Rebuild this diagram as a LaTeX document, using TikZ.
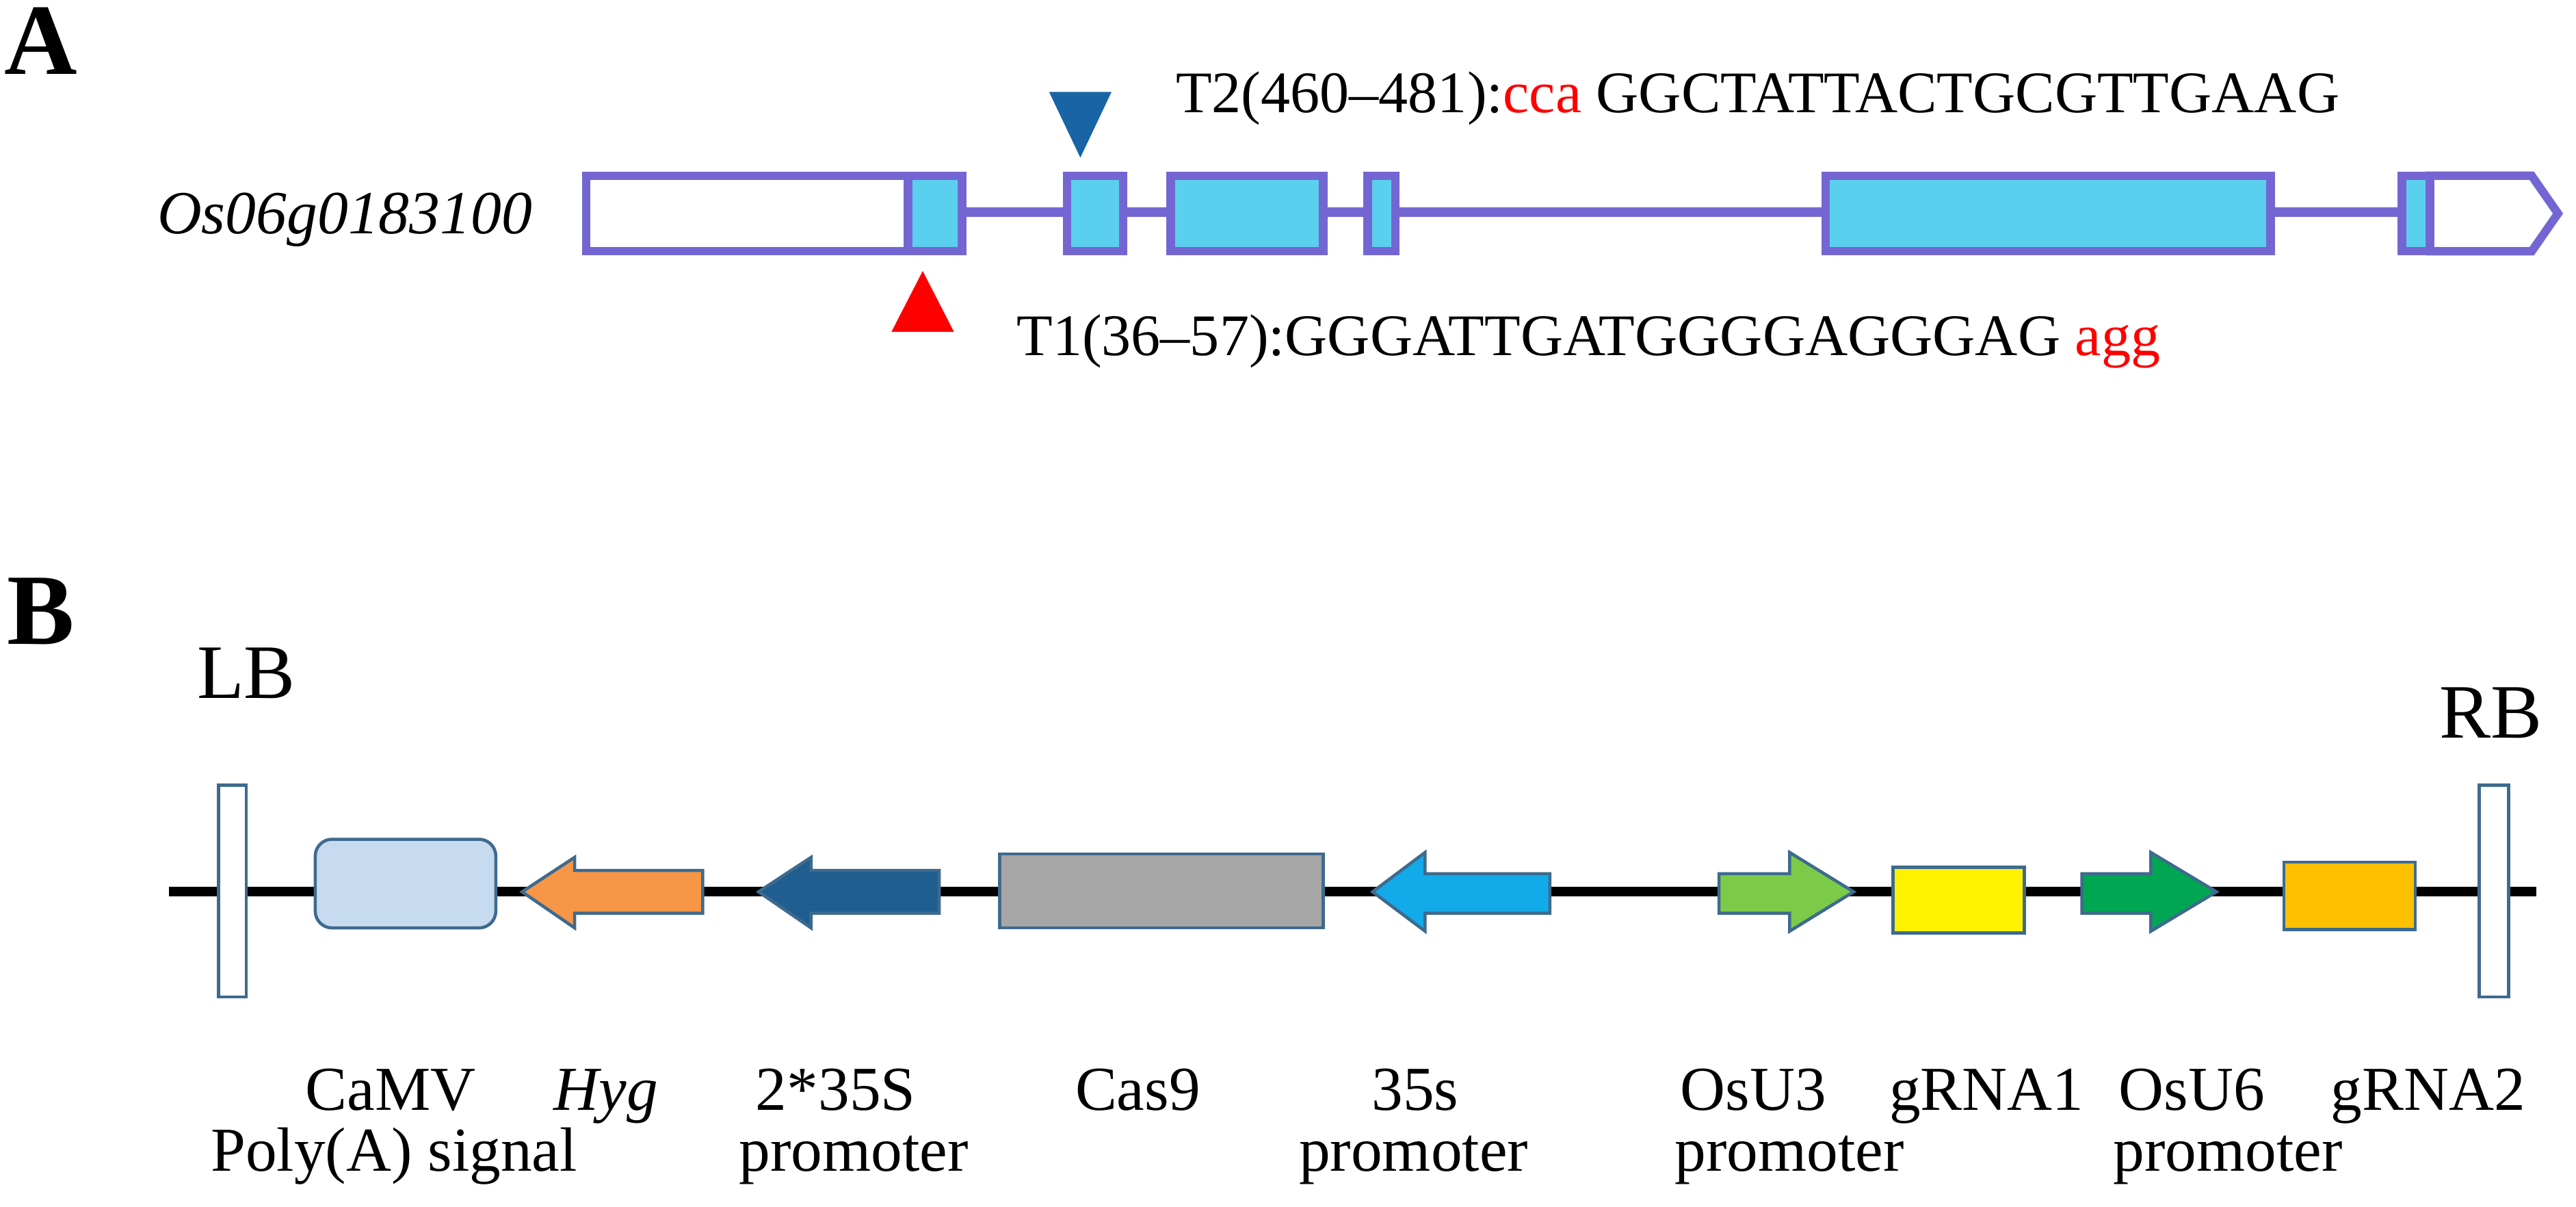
\documentclass[tikz,border=0pt]{standalone}
\usepackage{fontspec}
\setmainfont{Liberation Serif}
\begin{document}
\begin{tikzpicture}[x=0.024cm,y=-0.024cm,
  lbl/.style={font=\fontsize{26}{30}\selectfont,inner sep=0pt,align=center},
  seq/.style={font=\fontsize{24.5}{28}\selectfont,inner sep=0pt,anchor=west},
  panel/.style={font=\fontsize{42}{46}\selectfont\bfseries,inner sep=0pt},
  gene/.style={draw=genel,line width=3.5pt},
  exon/.style={gene,fill=exonc},
  utr/.style={gene,fill=white},
  part/.style={draw=partl,line width=1.3pt}]
\definecolor{genel}{HTML}{7466D2}
\definecolor{exonc}{HTML}{5BCFEE}
\definecolor{partl}{HTML}{3E6A8E}
\useasboundingbox (0,0) rectangle (1569,734.6);
% Panel A
\node[panel] (A) at (25,25) {A};
\node[inner sep=0pt,font=\fontsize{25.5}{30}\selectfont\itshape] (gname) at (210,134) {Os06g0183100};
\coordinate (gs) at (357,129);
\coordinate (ge) at (1542,129);
\draw[genel,line width=4pt] (gs) -- (ge);
\draw[utr] (357,107) rectangle (553,153);
\draw[exon] (553,107) rectangle (586,153);
\draw[exon] (650,107) rectangle (684,153);
\draw[exon] (713,107) rectangle (806,153);
\draw[exon] (833,107) rectangle (850,153);
\draw[exon] (1112,107) rectangle (1383,153);
\draw[utr,line join=miter] (1480,107) -- (1542,107) -- (1558,130) -- (1542,153) -- (1480,153) -- cycle;
\draw[exon] (1463,107) rectangle (1480,153);
\fill[fill={rgb,255:red,25;green,100;blue,165}] (639,56) -- (677,56) -- (658,96) -- cycle;
\fill[red] (543,202) -- (581,202) -- (562,165) -- cycle;
\node[seq] (t2) at (716,60) {T2(460\textendash481):\textcolor{red}{cca} GGCTATTACTGCGTTGAAG};
\node[seq] (t1) at (619,208) {T1(36\textendash57):GGGATTGATGGGGAGGGAG \textcolor{red}{agg}};
% Panel B
\node[panel] (B) at (25,372) {B};
\node[lbl,font=\fontsize{32}{36}\selectfont] (LB) at (150,410) {LB};
\node[lbl,font=\fontsize{32}{36}\selectfont] (RB) at (1517,434) {RB};
\coordinate (bs) at (103,543);
\coordinate (be) at (1545,543);
\draw[black,line width=4pt] (bs) -- (be);
\draw[part,fill=white] (133,478) rectangle (150,607);
\draw[part,fill=white] (1510,478) rectangle (1528,607);
\draw[part,fill={rgb,255:red,198;green,218;blue,240},rounded corners=7pt] (192,511) rectangle (302,565);
\draw[part,fill={rgb,255:red,247;green,150;blue,70}] (318,543) -- (350,522) -- (350,530) -- (428,530) -- (428,556) -- (350,556) -- (350,565) -- cycle;
\draw[part,fill={rgb,255:red,31;green,94;blue,142}] (462,543) -- (494,522) -- (494,530) -- (572,530) -- (572,556) -- (494,556) -- (494,565) -- cycle;
\draw[part,fill={rgb,255:red,166;green,166;blue,166}] (609,520) rectangle (806,565);
\draw[part,fill={rgb,255:red,18;green,170;blue,232}] (836,543) -- (868,519) -- (868,532) -- (944,532) -- (944,556) -- (868,556) -- (868,567) -- cycle;
\draw[part,fill={rgb,255:red,124;green,203;blue,72}] (1129,543) -- (1090,519) -- (1090,532) -- (1047,532) -- (1047,556) -- (1090,556) -- (1090,567) -- cycle;
\draw[part,fill=yellow] (1153,528) rectangle (1233,568);
\draw[part,fill={rgb,255:red,0;green,166;blue,81}] (1350,543) -- (1310,519) -- (1310,532) -- (1268,532) -- (1268,556) -- (1310,556) -- (1310,567) -- cycle;
\draw[part,fill={rgb,255:red,255;green,192;blue,0}] (1391,525) rectangle (1471,566);
% labels
\node[lbl,anchor=base] (l1) at (238,676) {CaMV};
\node[lbl,anchor=base] (l1b) at (240,713) {Poly(A) signal};
\node[lbl,anchor=base,font=\fontsize{26}{30}\selectfont\itshape] (l2) at (369,676) {Hyg};
\node[lbl,anchor=base] (l3) at (509,676) {2*35S};
\node[lbl,anchor=base] (l3b) at (520,713) {promoter};
\node[lbl,anchor=base] (l4) at (693,676) {Cas9};
\node[lbl,anchor=base] (l5) at (862,676) {35s};
\node[lbl,anchor=base] (l5b) at (861,713) {promoter};
\node[lbl,anchor=base] (l6) at (1068,676) {OsU3};
\node[lbl,anchor=base] (l6b) at (1090,713) {promoter};
\node[lbl,anchor=base] (l7) at (1210,676) {gRNA1};
\node[lbl,anchor=base] (l8) at (1335,676) {OsU6};
\node[lbl,anchor=base] (l8b) at (1357,713) {promoter};
\node[lbl,anchor=base] (l9) at (1479,676) {gRNA2};
\end{tikzpicture}
\end{document}
